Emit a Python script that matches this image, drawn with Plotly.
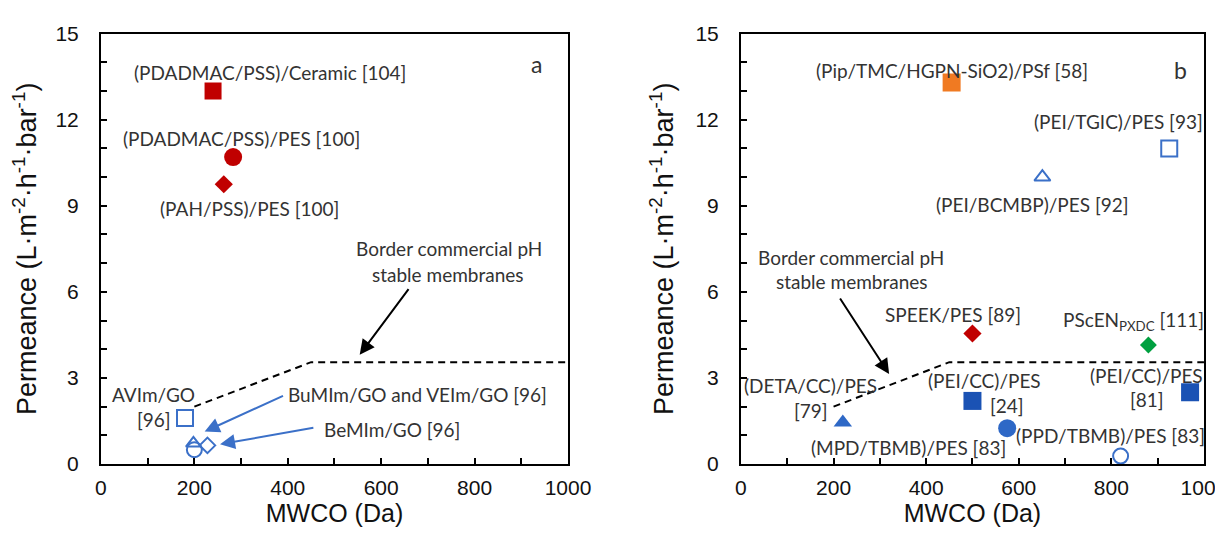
import plotly.graph_objects as go

# ---------------- data (panel a) ----------------
a_red_square_x = [240]
a_red_square_y = [13.0]
a_red_circle_x = [283]
a_red_circle_y = [10.7]
a_red_diamond_x = [263]
a_red_diamond_y = [9.75]
a_open_square_x = [180]
a_open_square_y = [1.6]
a_open_triangle_x = [198]
a_open_triangle_y = [0.72]
a_open_circle_x = [200]
a_open_circle_y = [0.5]
a_open_diamond_x = [228]
a_open_diamond_y = [0.65]

# ---------------- data (panel b) ----------------
b_orange_square_x = [455]
b_orange_square_y = [13.3]
b_open_triangle_x = [651]
b_open_triangle_y = [10.0]
b_open_square_x = [925]
b_open_square_y = [11.0]
b_red_diamond_x = [500]
b_red_diamond_y = [4.55]
b_green_diamond_x = [880]
b_green_diamond_y = [4.15]
b_blue_square_x = [500, 970]
b_blue_square_y = [2.2, 2.5]
b_blue_triangle_x = [220]
b_blue_triangle_y = [1.45]
b_blue_circle_x = [575]
b_blue_circle_y = [1.25]
b_open_circle_x = [820]
b_open_circle_y = [0.28]

# border of commercial pH stable membranes
border_x = [200, 450, 1000]
border_y = [2.0, 3.55, 3.55]

x_ticks = [0, 200, 400, 600, 800, 1000]
y_ticks = [0, 3, 6, 9, 12, 15]

RED = "#C00000"
ORANGE = "#F07A22"
GREEN = "#00A040"
BLUE_DARK = "#1A52B4"
BLUE = "#2E68C6"
BLUE_OPEN = "#3B70C8"
TXT = "#333333"
LABEL_FONT = dict(family="Lato", size=19, color=TXT)

fig = go.Figure()


def pts(x, y, symbol, color, size, xa, ya, open_=False):
    m = dict(symbol=symbol, size=size, color=color)
    if open_:
        m["line"] = dict(color=color, width=2)
    else:
        m["line"] = dict(width=0)
    fig.add_trace(go.Scatter(x=x, y=y, mode="markers", marker=m,
                             xaxis=xa, yaxis=ya, showlegend=False, hoverinfo="skip"))


# panel a
fig.add_trace(go.Scatter(x=border_x, y=border_y, mode="lines",
                         line=dict(color="black", width=2, dash="7px,5px"),
                         xaxis="x", yaxis="y", showlegend=False))
pts(a_red_square_x, a_red_square_y, "square", RED, 17, "x", "y")
pts(a_red_circle_x, a_red_circle_y, "circle", RED, 18, "x", "y")
pts(a_red_diamond_x, a_red_diamond_y, "diamond", RED, 14, "x", "y")
pts(a_open_square_x, a_open_square_y, "square-open", BLUE_OPEN, 16, "x", "y", True)
pts(a_open_triangle_x, a_open_triangle_y, "triangle-up-open", BLUE_OPEN, 13, "x", "y", True)
pts(a_open_circle_x, a_open_circle_y, "circle-open", BLUE_OPEN, 15, "x", "y", True)
pts(a_open_diamond_x, a_open_diamond_y, "diamond-open", BLUE_OPEN, 12, "x", "y", True)

# panel b
fig.add_trace(go.Scatter(x=border_x, y=border_y, mode="lines",
                         line=dict(color="black", width=2, dash="7px,5px"),
                         xaxis="x2", yaxis="y2", showlegend=False))
pts(b_orange_square_x, b_orange_square_y, "square", ORANGE, 18, "x2", "y2")
pts(b_open_triangle_x, b_open_triangle_y, "triangle-up-open", BLUE_OPEN, 14, "x2", "y2", True)
pts(b_open_square_x, b_open_square_y, "square-open", BLUE_OPEN, 16, "x2", "y2", True)
pts(b_red_diamond_x, b_red_diamond_y, "diamond", RED, 14, "x2", "y2")
pts(b_green_diamond_x, b_green_diamond_y, "diamond", GREEN, 13, "x2", "y2")
pts(b_blue_square_x, b_blue_square_y, "square", BLUE_DARK, 18, "x2", "y2")
pts(b_blue_triangle_x, b_blue_triangle_y, "triangle-up", BLUE, 16, "x2", "y2")
pts(b_blue_circle_x, b_blue_circle_y, "circle", BLUE, 18, "x2", "y2")
pts(b_open_circle_x, b_open_circle_y, "circle-open", BLUE_OPEN, 15, "x2", "y2", True)

ann = []


def label(text, x, y, xr, yr, size=19):
    f = dict(LABEL_FONT)
    f["size"] = size
    ann.append(dict(text=text, x=x, y=y, xref=xr, yref=yr, showarrow=False,
                    font=f, xanchor="center", yanchor="middle"))


def arrow(x0, y0, x1, y1, xr, yr, color, width):
    ann.append(dict(text="", x=x1, y=y1, ax=x0, ay=y0, xref=xr, yref=yr,
                    axref=xr, ayref=yr, showarrow=True, arrowhead=2,
                    arrowsize=1.5, arrowwidth=width, arrowcolor=color))


# panel a labels
label("(PDADMAC/PSS)/Ceramic [104]", 362, 13.66, "x", "y")
label("(PDADMAC/PSS)/PES [100]", 301, 11.35, "x", "y")
label("(PAH/PSS)/PES [100]", 319, 8.9, "x", "y")
label("a", 933, 13.95, "x", "y", 23)
label("Border commercial pH", 746, 7.5, "x", "y")
label("stable membranes", 743, 6.62, "x", "y")
label("AVIm/GO", 113, 2.42, "x", "y")
label("[96]", 113, 1.55, "x", "y")
label("BuMIm/GO and VEIm/GO [96]", 677, 2.42, "x", "y")
label("BeMIm/GO [96]", 623, 1.22, "x", "y")
arrow(661, 6.15, 554, 3.81, "x", "y", "black", 2)
arrow(393, 2.40, 222, 1.13, "x", "y", BLUE_OPEN, 2)
arrow(458, 1.27, 255, 0.69, "x", "y", BLUE_OPEN, 2)

# panel b labels
label("(Pip/TMC/HGPN-SiO2)/PSf [58]", 455, 13.72, "x2", "y2")
label("b", 950, 13.72, "x2", "y2", 23)
label("(PEI/TGIC)/PES [93]", 815, 11.95, "x2", "y2")
label("(PEI/BCMBP)/PES [92]", 630, 9.03, "x2", "y2")
label("Border commercial pH", 238, 7.19, "x2", "y2")
label("stable membranes", 239, 6.35, "x2", "y2")
label("SPEEK/PES [89]", 459, 5.22, "x2", "y2")
label("PScEN<sub>PXDC</sub> [111]", 847, 5.0, "x2", "y2")
label("(DETA/CC)/PES", 151, 2.72, "x2", "y2")
label("[79]", 151, 1.85, "x2", "y2")
label("(PEI/CC)/PES", 525, 2.9, "x2", "y2")
label("[24]", 575, 2.03, "x2", "y2")
label("(PEI/CC)/PES", 875, 3.1, "x2", "y2")
label("[81]", 877, 2.26, "x2", "y2")
label("(MPD/TBMB)/PES [83]", 362, 0.56, "x2", "y2")
label("(PPD/TBMB)/PES [83]", 799, 0.98, "x2", "y2")
arrow(212, 5.82, 320, 3.14, "x2", "y2", "black", 2)

XTICKFONT = dict(family="Liberation Sans, Arial", size=21, color="#111111")
YTICKFONT = dict(family="Liberation Sans, Arial", size=21, color="#111111")
XTITLEFONT = dict(family="Liberation Sans, Arial", size=25, color="#111111")
YTITLEFONT = dict(family="Liberation Sans, Arial", size=27, color="#111111")


def xaxis(domain, anchor):
    return dict(domain=domain, anchor=anchor, range=[0, 1000],
                tickvals=x_ticks, ticks="inside", ticklen=6, tickwidth=2,
                tickcolor="black", minor=dict(dtick=100, ticks="inside", ticklen=6,
                                              tickwidth=2, tickcolor="black"),
                showline=True, linecolor="black", linewidth=2, mirror=True,
                showgrid=False, zeroline=False, tickfont=XTICKFONT,
                ticklabelstandoff=4, automargin=False,
                title=dict(text="MWCO (Da)", font=XTITLEFONT, standoff=5))


def yaxis(domain, anchor):
    return dict(domain=domain, anchor=anchor, range=[0, 15],
                tickvals=y_ticks, ticks="inside", ticklen=6, tickwidth=2,
                tickcolor="black", minor=dict(dtick=1, ticks="inside", ticklen=6,
                                              tickwidth=2, tickcolor="black"),
                showline=True, linecolor="black", linewidth=2, mirror=True,
                showgrid=False, zeroline=False, tickfont=YTICKFONT,
                ticklabelstandoff=16, automargin=False,
                title=dict(text="Permeance (L·m<sup>-2</sup>·h<sup>-1</sup>·bar<sup>-1</sup>)",
                           font=YTITLEFONT, standoff=14))


fig.update_layout(
    width=1223, height=534,
    margin=dict(l=0, r=0, t=0, b=0),
    paper_bgcolor="white", plot_bgcolor="white",
    xaxis=xaxis([0.0760, 0.4579], "y"),
    yaxis=yaxis([0.146, 0.952], "x"),
    xaxis2=xaxis([0.5993, 0.9779], "y2"),
    yaxis2=yaxis([0.146, 0.952], "x2"),
    annotations=ann,
    showlegend=False,
)

fig.write_html("out.html")
